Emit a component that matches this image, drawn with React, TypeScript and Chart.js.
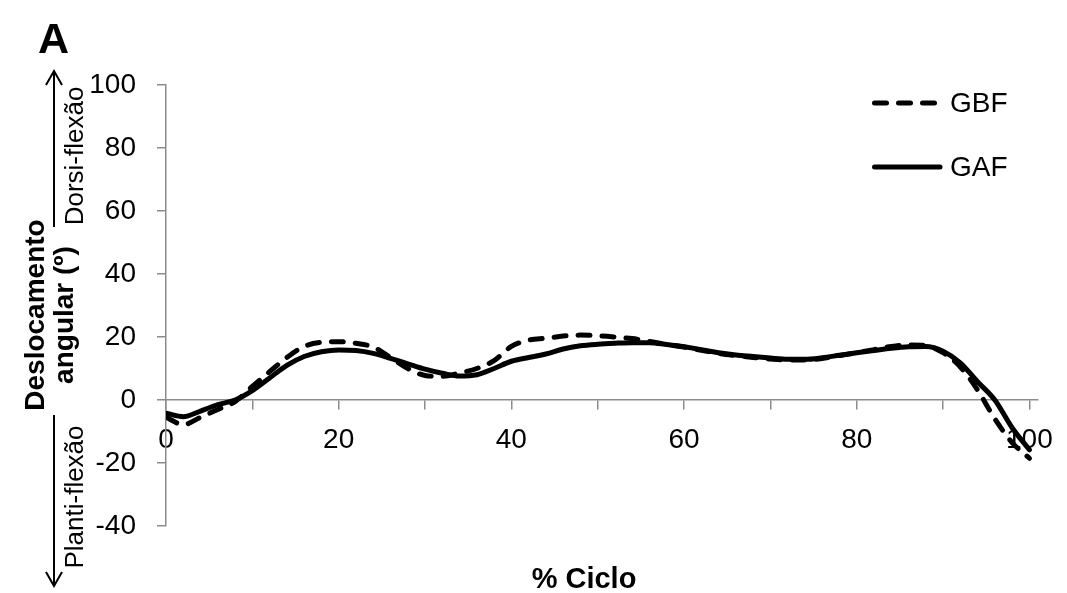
import { useEffect, useRef } from 'react';
import { Chart, registerables } from 'chart.js';

Chart.register(...registerables);

// % of gait cycle (x values)
const cyclePercent = [
  0, 2, 4, 6, 8, 10, 12, 14, 16, 18, 20, 22, 24, 26, 28, 30, 32, 34, 36, 38, 40,
  42, 44, 46, 48, 50, 52, 54, 56, 58, 60, 62, 64, 66, 68, 70, 72, 74, 76, 78, 80,
  82, 84, 86, 88, 90, 92, 94, 96, 98, 100,
];

// GBF (dashed)
const gbfValues = [
  -5.5, -7.8, -5.5, -3, -0.5, 4.3, 9, 13.5, 17, 18.3, 18.5, 18, 16.8, 13.5, 10, 7.8, 7.5, 8.6, 10, 12.5, 17,
  19, 19.6, 20.3, 20.6, 20.4, 20, 19.5, 18.6, 17.6, 16.8, 15.8, 14.8, 14.1, 13.5, 13, 12.7, 12.7, 13.2, 14.1, 15,
  16, 17, 17.5, 17.3, 15, 10.5, 3.2, -6, -13.5, -18.5,
];

// GAF (solid)
const gafValues = [
  -4.2, -5.3, -3.5, -1.5, 0, 3, 7, 11, 13.8, 15.3, 15.9, 15.7, 14.8, 13.2, 11.5, 9.8, 8.5, 7.6, 8, 10, 12.3,
  13.5, 14.6, 16.2, 17.2, 17.7, 18, 18.2, 18.2, 17.6, 16.9, 16, 15, 14.3, 13.8, 13.3, 12.9, 12.9, 13.4, 14.2, 15,
  15.7, 16.4, 16.9, 17, 15.5, 11.8, 5.8, 0, -8.8, -15.8,
];

const seriesNames = ['GBF', 'GAF'];
const xTickValues = [0, 10, 20, 30, 40, 50, 60, 70, 80, 90, 100];
const xLabelValues = [0, 20, 40, 60, 80, 100];
const yTickValues = [-40, -20, 0, 20, 40, 60, 80, 100];

const FONT = '"Liberation Sans", Arial, Helvetica, sans-serif';
const AXIS_GRAY = '#8c8c8c';

const annotationPlugin = {
  id: 'annotations',
  afterDraw(chart: any) {
    const ctx: CanvasRenderingContext2D = chart.ctx;
    ctx.save();
    ctx.fillStyle = '#000';
    ctx.strokeStyle = '#000';

    // Panel letter
    ctx.font = `bold 43px ${FONT}`;
    ctx.textAlign = 'left';
    ctx.textBaseline = 'alphabetic';
    ctx.fillText('A', 38, 53);

    const rotated = (text: string, x: number, y: number, font: string) => {
      ctx.save();
      ctx.translate(x, y);
      ctx.rotate(-Math.PI / 2);
      ctx.font = font;
      ctx.textAlign = 'center';
      ctx.textBaseline = 'alphabetic';
      ctx.fillText(text, 0, 0);
      ctx.restore();
    };

    // Y axis title (two lines)
    rotated('Deslocamento', 44, 315, `bold 28px ${FONT}`);
    rotated('angular (º)', 73, 315, `bold 28px ${FONT}`);

    // Side labels
    rotated('Dorsi-flexão', 83, 156, `26px ${FONT}`);
    rotated('Planti-flexão', 83, 497, `26px ${FONT}`);

    // Arrows
    ctx.lineWidth = 2;
    ctx.lineCap = 'butt';
    ctx.beginPath();
    ctx.moveTo(54, 227);
    ctx.lineTo(54, 71);
    ctx.moveTo(46, 85);
    ctx.lineTo(54, 71);
    ctx.lineTo(62, 85);
    ctx.stroke();

    ctx.beginPath();
    ctx.moveTo(54, 415);
    ctx.lineTo(54, 586);
    ctx.moveTo(46, 572);
    ctx.lineTo(54, 586);
    ctx.lineTo(62, 572);
    ctx.stroke();

    // X axis title
    ctx.font = `bold 29px ${FONT}`;
    ctx.textAlign = 'center';
    ctx.textBaseline = 'alphabetic';
    ctx.fillText('% Ciclo', 584, 588);

    // Legend
    const legendY = [103, 167];
    chart.data.datasets.forEach((ds: any, i: number) => {
      const y = legendY[i];
      ctx.save();
      ctx.lineWidth = ds.borderWidth;
      ctx.lineCap = 'round';
      ctx.strokeStyle = ds.borderColor;
      ctx.setLineDash(ds.borderDash || []);
      ctx.beginPath();
      ctx.moveTo(874.5, y);
      ctx.lineTo(ds.borderDash && ds.borderDash.length ? 935 : 940, y);
      ctx.stroke();
      ctx.restore();
      ctx.font = `28px ${FONT}`;
      ctx.textAlign = 'left';
      ctx.textBaseline = 'middle';
      ctx.fillText(ds.label, 950, y + 1);
    });

    ctx.restore();
  },
};

export default function App() {
  const canvasRef = useRef<HTMLCanvasElement | null>(null);

  useEffect(() => {
    document.body.style.margin = '0';
    const canvas = canvasRef.current;
    if (!canvas) return;

    const chart = new Chart(canvas, {
      type: 'line',
      data: {
        datasets: [
          {
            label: seriesNames[0],
            data: cyclePercent.map((x, i) => ({ x, y: gbfValues[i] })),
            borderColor: '#000',
            borderWidth: 5,
            borderDash: [12, 12],
            borderCapStyle: 'round',
            borderJoinStyle: 'round',
            pointRadius: 0,
            fill: false,
            cubicInterpolationMode: 'monotone',
          },
          {
            label: seriesNames[1],
            data: cyclePercent.map((x, i) => ({ x, y: gafValues[i] })),
            borderColor: '#000',
            borderWidth: 5,
            borderCapStyle: 'round',
            borderJoinStyle: 'round',
            pointRadius: 0,
            fill: false,
            cubicInterpolationMode: 'monotone',
          },
        ],
      },
      options: {
        responsive: false,
        animation: false,
        events: [],
        layout: { padding: { top: 85, right: 27, bottom: 67, left: 0 } },
        plugins: {
          legend: { display: false },
          tooltip: { enabled: false },
          title: { display: false },
        },
        scales: {
          x: {
            type: 'linear',
            position: { y: 0 },
            min: 0,
            max: 101,
            afterBuildTicks: (scale: any) => {
              scale.ticks = xTickValues.map((v) => ({ value: v }));
            },
            ticks: {
              autoSkip: false,
              maxRotation: 0,
              color: '#000',
              padding: 14,
              font: { family: FONT, size: 28 },
              callback: (v: any) => (xLabelValues.includes(Number(v)) ? String(v) : ''),
            },
            grid: {
              drawOnChartArea: false,
              drawTicks: true,
              tickLength: 9,
              color: AXIS_GRAY,
              lineWidth: 1.5,
            },
            border: { color: AXIS_GRAY, width: 1.5 },
          },
          y: {
            type: 'linear',
            position: 'left',
            min: -40,
            max: 100,
            afterBuildTicks: (scale: any) => {
              scale.ticks = yTickValues.map((v) => ({ value: v }));
            },
            afterFit: (scale: any) => {
              scale.width = 166;
            },
            ticks: {
              color: '#000',
              padding: 21,
              font: { family: FONT, size: 28 },
            },
            grid: {
              drawOnChartArea: false,
              drawTicks: true,
              tickLength: 9,
              color: AXIS_GRAY,
              lineWidth: 1.5,
            },
            border: { color: AXIS_GRAY, width: 1.5 },
          },
        },
      },
      plugins: [annotationPlugin],
    } as any);

    return () => chart.destroy();
  }, []);

  return (
    <div style={{ position: 'absolute', left: 0, top: 0, width: 1067, height: 593 }}>
      <canvas ref={canvasRef} width={1067} height={593} style={{ display: 'block' }} />
    </div>
  );
}
